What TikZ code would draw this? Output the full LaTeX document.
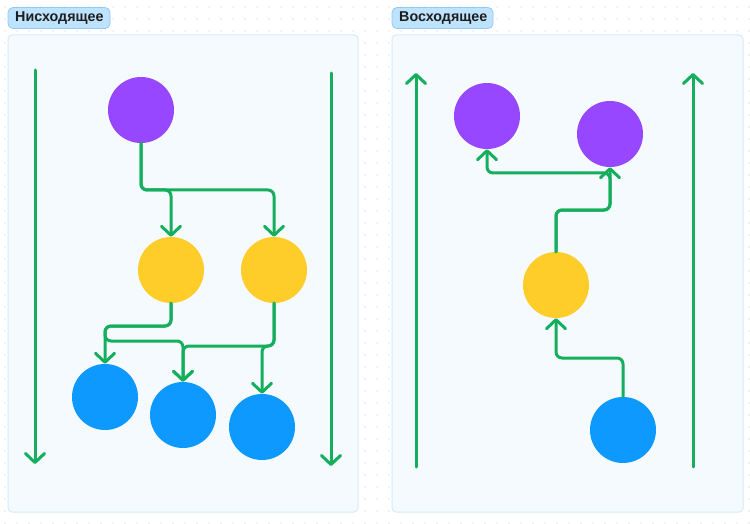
\documentclass[tikz,border=0pt]{standalone}
\usepackage{fontspec}
\setmainfont{Liberation Sans}
\usetikzlibrary{arrows.meta}
\definecolor{lgreen}{HTML}{14AE5C}
\definecolor{cpurple}{HTML}{9747FF}
\definecolor{cyellow}{HTML}{FFCD29}
\definecolor{cblue}{HTML}{0D99FF}
\definecolor{panelfill}{HTML}{F5FAFF}
\definecolor{panelborder}{HTML}{D6EBFC}
\definecolor{tagfill}{HTML}{BDE3FF}
\definecolor{tagborder}{HTML}{94C8F0}
\definecolor{txt}{HTML}{1E1E1E}
\definecolor{griddot}{HTML}{CFCFCF}
\begin{document}
\begin{tikzpicture}[x=1pt,y=-1pt,
  panel/.style={fill=panelfill,draw=panelborder,line width=1pt,rounded corners=4pt},
  tag/.style={fill=tagfill,draw=tagborder,line width=0.8pt,rounded corners=5pt},
  tagtext/.style={text=txt,font=\fontsize{14.3}{16}\selectfont\bfseries,inner sep=0pt,anchor=west},
  dotnode/.style={circle,minimum size=66pt,inner sep=0pt,draw=none},
  edge/.style={draw=lgreen,line width=3pt,rounded corners=6pt,line cap=round,
    -{Straight Barb[length=9pt,width=19pt,line cap=round,round]}},
  axis/.style={draw=lgreen,line width=3pt,line cap=round,
    -{Straight Barb[length=9pt,width=19pt,line cap=round,round]}}]
\useasboundingbox (0,0) rectangle (750,524);
\fill[white] (0,0) rectangle (750,524);
% dotted grid
\foreach \i in {0,...,62}{
  \foreach \j in {0,...,43}{
    \fill[griddot] (5+12*\i,7+12*\j) circle (0.6pt);
  }
}
% panels
\draw[panel] (8,35) rectangle (358,512);
\draw[panel] (392,35) rectangle (743,512);
% tags
\draw[tag] (8,7.5) rectangle (110,28.5);
\node[tagtext] (t1) at (15,18.5) {Нисходящее};
\draw[tag] (392,7.5) rectangle (493,28.5);
\node[tagtext] (t2) at (399,18.5) {Восходящее};
% left panel nodes
\node[dotnode,fill=cpurple] (pL) at (141,110) {};
\node[dotnode,fill=cyellow] (yL1) at (171,270) {};
\node[dotnode,fill=cyellow] (yL2) at (274,270) {};
\node[dotnode,fill=cblue] (bL1) at (105,397) {};
\node[dotnode,fill=cblue] (bL2) at (183,415) {};
\node[dotnode,fill=cblue] (bL3) at (262,427) {};
% right panel nodes
\node[dotnode,fill=cpurple] (pR1) at (487,116) {};
\node[dotnode,fill=cpurple] (pR2) at (610,134) {};
\node[dotnode,fill=cyellow] (yR) at (556,285) {};
\node[dotnode,fill=cblue] (bR) at (623,430) {};
% bend levels
\coordinate (h1) at (0,190);
\coordinate (h2) at (0,326);
\coordinate (h3) at (0,341);
\coordinate (h4) at (0,346);
\coordinate (h5) at (0,358);
\coordinate (h6) at (0,210);
\coordinate (h7) at (0,173);
% side axes
\coordinate (a1s) at (35,70);
\coordinate (a1e) at (35,464);
\coordinate (a2s) at (331,73);
\coordinate (a2e) at (331,466);
\coordinate (a3s) at (416,467);
\coordinate (a3e) at (416,73);
\coordinate (a4s) at (693,467);
\coordinate (a4e) at (693,73);
\draw[axis] (a1s) -- (a1e);
\draw[axis] (a2s) -- (a2e);
\draw[axis] (a3s) -- (a3e);
\draw[axis] (a4s) -- (a4e);
% left edges
\draw[edge] (pL.south) -- (pL.south |- h1) -| (yL1.north);
\draw[edge] (pL.south) -- (pL.south |- h1) -| (yL2.north);
\draw[edge] (yL1.south) -- (yL1.south |- h2) -| (bL1.north);
\draw[edge] (yL1.south) -- (yL1.south |- h2) -| (bL1.north |- h3) -| (bL2.north);
\draw[edge] (yL2.south) -- (yL2.south |- h4) -| (bL2.north);
\draw[edge] (yL2.south) -- (yL2.south |- h4) -| (bL3.north);
% right edges
\draw[edge] (bR.north) -- (bR.north |- h5) -| (yR.south);
\draw[edge] (yR.north) -- (yR.north |- h6) -| (pR2.south);
\draw[edge] (yR.north) -- (yR.north |- h6) -| (pR2.south |- h7) -| (pR1.south);
\end{tikzpicture}
\end{document}
